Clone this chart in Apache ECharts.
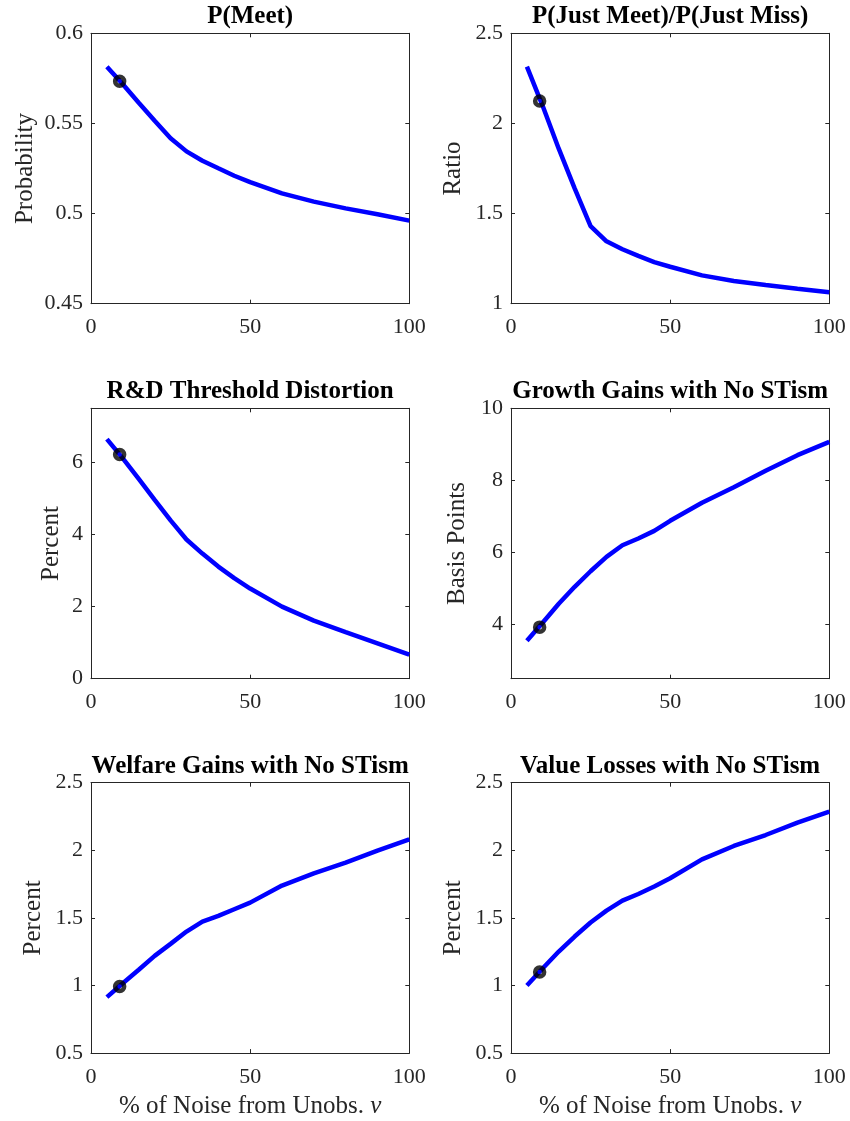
<!DOCTYPE html>
<html>
<head>
<meta charset="utf-8">
<script src="https://cdn.jsdelivr.net/npm/echarts@6/dist/echarts.min.js"></script>
<style>
html,body{margin:0;padding:0;background:#fff;}
#c{width:850px;height:1121px;}
</style>
</head>
<body>
<div id="c"></div>
<script>
// ---- data ----
const noiseShare = [5,10,15,20,25,30,35,40,45,50,60,70,80,90,100];
const pMeet      = [0.5815,0.5717,0.5615,0.5515,0.5418,0.5345,0.5293,0.5251,0.5210,0.5174,0.5112,0.5066,0.5029,0.4996,0.4961];
const ratioJust  = [2.315,2.095,1.860,1.640,1.431,1.346,1.302,1.265,1.231,1.205,1.157,1.126,1.104,1.083,1.063];
const rdDistort  = [6.645,6.11,5.54,4.96,4.39,3.86,3.47,3.11,2.79,2.50,2.00,1.61,1.29,0.98,0.67];
const growthGain = [3.55,4.06,4.58,5.05,5.48,5.88,6.20,6.39,6.60,6.88,7.38,7.81,8.27,8.70,9.07];
const welfareGain= [0.914,1.017,1.116,1.219,1.308,1.399,1.473,1.515,1.564,1.613,1.739,1.830,1.909,1.998,2.081];
const valueLoss  = [1.000,1.128,1.251,1.362,1.466,1.554,1.628,1.677,1.732,1.793,1.933,2.032,2.113,2.204,2.286];

const markerX = 9;
const markerY = [0.5734, 2.125, 6.22, 3.93, 0.993, 1.10];

const titles  = ['P(Meet)','P(Just Meet)/P(Just Miss)','R&D Threshold Distortion','Growth Gains with No STism','Welfare Gains with No STism','Value Losses with No STism'];
const yNames  = ['Probability','Ratio','Percent','Basis Points','Percent','Percent'];
const yMins   = [0.45, 1, 0, 2.5, 0.5, 0.5];
const yMaxs   = [0.6, 2.5, 7.5, 10, 2.5, 2.5];
const yTickVals = [[0.45,0.5,0.55,0.6],[1,1.5,2,2.5],[0,2,4,6],[4,6,8,10],[0.5,1,1.5,2,2.5],[0.5,1,1.5,2,2.5]];
const xTickVals = [0,50,100];
const xName = '% of Noise from Unobs. {i|ν}';
const seriesData = [pMeet, ratioJust, rdDistort, growthGain, welfareGain, valueLoss];

// ---- layout ----
const lefts = [91, 511];
const tops = [33.3, 408.3, 782.7];
const W = 318.3, H = 270.4;
const yNameGaps = [53, 45, 27, 41, 45, 45];
const FONT = 'Liberation Serif';
const AX = '#262626';

const grid = [], xAxis = [], yAxis = [], series = [];
for (let i = 0; i < 6; i++) {
  const r = Math.floor(i / 2), c = i % 2;
  grid.push({left: lefts[c], top: tops[r], width: W, height: H, containLabel: false});
  const tickCommon = {show: true, inside: true, length: 4, lineStyle: {color: AX, width: 1}};
  xAxis.push({
    gridIndex: i, type: 'value', min: 0, max: 100, interval: 50, position: 'bottom',
    axisLine: {show: true, onZero: false, lineStyle: {color: AX, width: 1}},
    axisTick: Object.assign({}, tickCommon, {customValues: xTickVals}),
    axisLabel: {color: AX, fontFamily: FONT, fontSize: 22, margin: 13, customValues: xTickVals},
    splitLine: {show: false},
    name: r === 2 ? xName : '', nameLocation: 'middle', nameGap: 41,
    nameTextStyle: {color: AX, fontFamily: FONT, fontSize: 25, rich: {i: {fontStyle: 'italic', fontFamily: FONT, fontSize: 25, color: AX}}}
  });
  xAxis.push({
    gridIndex: i, type: 'value', min: 0, max: 100, interval: 50, position: 'top',
    axisLine: {show: true, onZero: false, lineStyle: {color: AX, width: 1}},
    axisTick: Object.assign({}, tickCommon, {customValues: xTickVals}),
    axisLabel: {show: false}, splitLine: {show: false},
    name: titles[i], nameLocation: 'middle', nameGap: 4,
    nameTextStyle: {color: '#000', fontFamily: FONT, fontSize: 25, fontWeight: 'bold'}
  });
  yAxis.push({
    gridIndex: i, type: 'value', min: yMins[i], max: yMaxs[i], position: 'left',
    axisLine: {show: true, onZero: false, lineStyle: {color: AX, width: 1}},
    axisTick: Object.assign({}, tickCommon, {customValues: yTickVals[i]}),
    axisLabel: {color: AX, fontFamily: FONT, fontSize: 22, margin: 8, customValues: yTickVals[i]},
    splitLine: {show: false},
    name: yNames[i], nameLocation: 'middle', nameGap: yNameGaps[i],
    nameTextStyle: {color: AX, fontFamily: FONT, fontSize: 25}
  });
  yAxis.push({
    gridIndex: i, type: 'value', min: yMins[i], max: yMaxs[i], position: 'right',
    axisLine: {show: true, onZero: false, lineStyle: {color: AX, width: 1}},
    axisTick: Object.assign({}, tickCommon, {customValues: yTickVals[i]}),
    axisLabel: {show: false}, splitLine: {show: false}
  });
  series.push({
    type: 'line', xAxisIndex: 2 * i, yAxisIndex: 2 * i,
    data: noiseShare.map((x, k) => [x, seriesData[i][k]]),
    showSymbol: false, symbol: 'none', smooth: false,
    lineStyle: {color: '#0000ff', width: 4.5}, z: 2, animation: false
  });
  series.push({
    type: 'scatter', xAxisIndex: 2 * i, yAxisIndex: 2 * i,
    data: [[markerX, markerY[i]]],
    symbol: 'circle', symbolSize: 9,
    itemStyle: {color: 'rgba(0,0,0,0)', borderColor: '#000', borderWidth: 4.5},
    z: 3, animation: false
  });
}

const chart = echarts.init(document.getElementById('c'), null, {renderer: 'canvas'});
chart.setOption({animation: false, backgroundColor: '#fff', grid, xAxis, yAxis, series});
</script>
</body>
</html>
